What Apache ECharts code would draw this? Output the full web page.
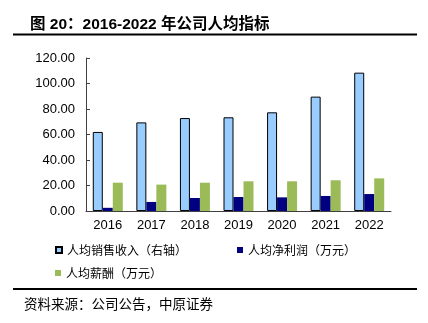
<!DOCTYPE html>
<html><head><meta charset="utf-8">
<script src="https://cdn.jsdelivr.net/npm/echarts@6/dist/echarts.min.js"></script>
<style>html,body{margin:0;padding:0;background:#fff}#c{width:428px;height:323px}</style>
</head><body><div id="c"></div>
<script>
const categories = ['2016','2017','2018','2019','2020','2021','2022'];
const salesPerCapita = [62.0, 69.5, 72.9, 73.5, 77.4, 89.7, 108.5];
const profitPerCapita = [2.5, 7.1, 10.2, 11.0, 10.7, 11.8, 13.3];
const salaryPerCapita = [22.2, 20.7, 22.2, 23.3, 23.3, 24.1, 25.6];
const seriesNames = ['人均销售收入（右轴）', '人均净利润（万元）', '人均薪酬（万元）'];
const yTicks = {min: 0, max: 120, interval: 20};

const chart = echarts.init(document.getElementById('c'));
const cjk = '"Liberation Sans", Arial, "Noto Sans CJK SC", sans-serif';
const legendText = {fontSize: 12, color: '#000', fontFamily: '"Noto Sans CJK SC", sans-serif'};
chart.setOption({
  animation: false,
  title: {
    text: '图 20：2016-2022 年公司人均指标',
    left: 25, top: 12,
    textStyle: {fontSize: 15.5, fontWeight: 'bold', color: '#000', fontFamily: cjk}
  },
  grid: {left: 86, right: 37, top: 58, bottom: 112},
  legend: [
    {data: [seriesNames[0]], left: 50, top: 239, itemWidth: 6, itemHeight: 6, itemGap: 4, textStyle: legendText, icon: 'rect'},
    {data: [seriesNames[1]], left: 232, top: 239, itemWidth: 6, itemHeight: 6, itemGap: 4, textStyle: legendText, icon: 'rect'},
    {data: [seriesNames[2]], left: 50, top: 262, itemWidth: 6, itemHeight: 6, itemGap: 4, textStyle: legendText, icon: 'rect'}
  ],
  xAxis: {
    type: 'category', data: categories,
    axisLine: {lineStyle: {color: '#404040', width: 1}},
    axisTick: {inside: true, length: 4, lineStyle: {color: '#404040'}},
    axisLabel: {color: '#000', fontSize: 13, fontFamily: '"Liberation Sans", Arial, sans-serif', margin: 8}
  },
  yAxis: {
    type: 'value', min: yTicks.min, max: yTicks.max, interval: yTicks.interval,
    axisLine: {show: true, lineStyle: {color: '#404040', width: 1}},
    axisTick: {show: true, inside: true, length: 4, lineStyle: {color: '#404040'}},
    splitLine: {show: false},
    axisLabel: {color: '#000', fontSize: 13, fontFamily: '"Liberation Sans", Arial, sans-serif', margin: 11,
      formatter: v => v.toFixed(2)}
  },
  series: [
    {name: seriesNames[0], type: 'bar', data: salesPerCapita, barWidth: 10, barGap: '0%',
      itemStyle: {color: '#99CCFF', borderColor: '#000', borderWidth: 1}},
    {name: seriesNames[1], type: 'bar', data: profitPerCapita, barWidth: 10, barGap: '0%',
      itemStyle: {color: '#000080'}},
    {name: seriesNames[2], type: 'bar', data: salaryPerCapita, barWidth: 10, barGap: '0%',
      itemStyle: {color: '#9BBB59'}}
  ],
  graphic: [
    {type: 'rect', shape: {x: 13, y: 33.5, width: 404, height: 2}, style: {fill: '#000'}},
    {type: 'rect', shape: {x: 13, y: 288, width: 404, height: 2}, style: {fill: '#000'}},
    {type: 'text', left: 24, top: 297, style: {text: '资料来源：公司公告，中原证券', fontSize: 13.5, fill: '#000',
      fontFamily: '"Noto Sans CJK SC", sans-serif'}}
  ]
});
</script></body></html>
